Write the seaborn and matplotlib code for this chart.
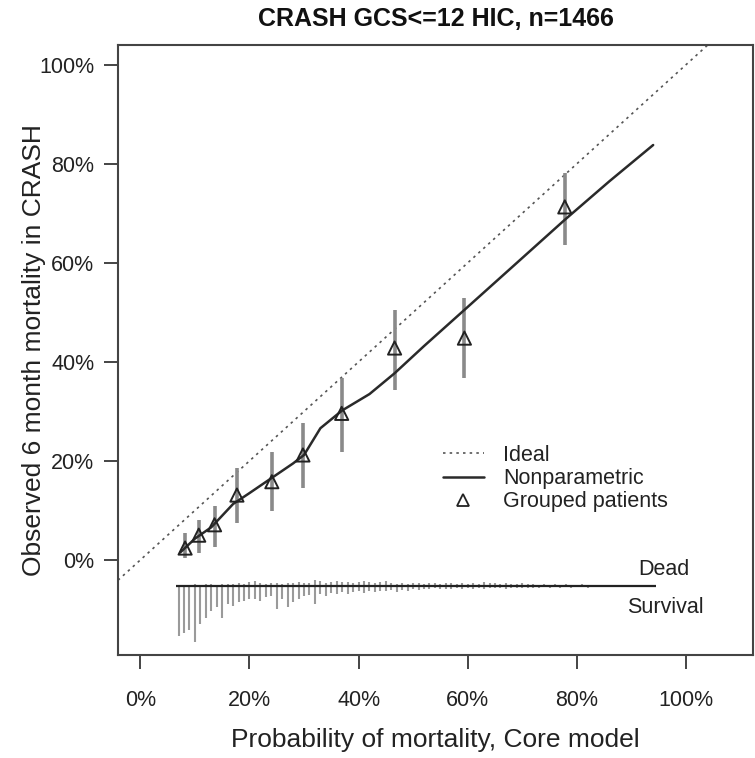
import numpy as np
import pandas as pd
import matplotlib
matplotlib.use("Agg")
import matplotlib.pyplot as plt
import seaborn as sns
from matplotlib.lines import Line2D

# ---------------- data ----------------
title = "CRASH GCS<=12 HIC, n=1466"
xlabel = "Probability of mortality, Core model"
ylabel = "Observed 6 month mortality in CRASH"
tick_values = [0.0, 0.2, 0.4, 0.6, 0.8, 1.0]
tick_labels = ["0%", "20%", "40%", "60%", "80%", "100%"]

# grouped patients (triangles) with 95% CI
group_pred = [0.082, 0.107, 0.136, 0.177, 0.241, 0.298, 0.369, 0.466, 0.594, 0.778]
group_obs = [0.024, 0.050, 0.071, 0.131, 0.158, 0.212, 0.296, 0.428, 0.448, 0.713]
group_lo = [0.004, 0.014, 0.027, 0.075, 0.098, 0.145, 0.219, 0.343, 0.367, 0.636]
group_hi = [0.055, 0.081, 0.108, 0.186, 0.217, 0.277, 0.367, 0.505, 0.529, 0.781]

# nonparametric calibration curve
np_x = [0.073, 0.100, 0.130, 0.170, 0.200, 0.240, 0.280, 0.300, 0.330, 0.370,
        0.420, 0.466, 0.520, 0.594, 0.680, 0.778, 0.860, 0.940]
np_y = [0.015, 0.043, 0.066, 0.113, 0.135, 0.165, 0.195, 0.212, 0.266, 0.302,
        0.335, 0.377, 0.432, 0.505, 0.590, 0.687, 0.765, 0.838]

# spike histogram of predictions (bin centres, spike lengths)
spike_x = [0.07, 0.08, 0.09, 0.10, 0.11, 0.12, 0.13, 0.14, 0.15, 0.16, 0.17, 0.18,
           0.19, 0.20, 0.21, 0.22, 0.23, 0.24, 0.25, 0.26, 0.27, 0.28, 0.29, 0.30,
           0.31, 0.32, 0.33, 0.34, 0.35, 0.36, 0.37, 0.38, 0.39, 0.40, 0.41, 0.42,
           0.43, 0.44, 0.45, 0.46, 0.47, 0.48, 0.49, 0.50, 0.51, 0.52, 0.53, 0.54,
           0.55, 0.56, 0.57, 0.58, 0.59, 0.60, 0.61, 0.62, 0.63, 0.64, 0.65, 0.66,
           0.67, 0.68, 0.69, 0.70, 0.71, 0.72, 0.73, 0.74, 0.75, 0.76, 0.77, 0.78,
           0.79, 0.80, 0.81, 0.82, 0.83, 0.84, 0.85, 0.86, 0.87, 0.88, 0.89, 0.90,
           0.91, 0.92, 0.93, 0.94]
survival_len = [0.100, 0.094, 0.088, 0.112, 0.076, 0.065, 0.050, 0.043, 0.065, 0.036,
                0.040, 0.032, 0.030, 0.025, 0.025, 0.029, 0.022, 0.020, 0.047, 0.025,
                0.043, 0.032, 0.025, 0.020, 0.018, 0.036, 0.015, 0.020, 0.014, 0.016,
                0.012, 0.015, 0.012, 0.010, 0.013, 0.010, 0.012, 0.009, 0.010, 0.008,
                0.011, 0.007, 0.009, 0.006, 0.007, 0.005, 0.006, 0.004, 0.006, 0.005,
                0.005, 0.004, 0.006, 0.004, 0.005, 0.003, 0.005, 0.004, 0.004, 0.003,
                0.005, 0.003, 0.004, 0.003, 0.004, 0.003, 0.003, 0.002, 0.004, 0.002,
                0.003, 0.002, 0.003, 0.002, 0.002, 0.003, 0.002, 0.002, 0.002, 0.001,
                0.002, 0.001, 0.002, 0.001, 0.001, 0.001, 0.001, 0.000]
dead_len = [0.002, 0.003, 0.003, 0.004, 0.003, 0.004, 0.004, 0.003, 0.005, 0.004,
            0.005, 0.006, 0.004, 0.008, 0.010, 0.006, 0.005, 0.007, 0.006, 0.005,
            0.007, 0.006, 0.008, 0.006, 0.007, 0.012, 0.010, 0.007, 0.008, 0.011,
            0.009, 0.008, 0.007, 0.008, 0.010, 0.009, 0.006, 0.008, 0.011, 0.007,
            0.005, 0.006, 0.004, 0.007, 0.006, 0.005, 0.007, 0.006, 0.005, 0.006,
            0.007, 0.005, 0.006, 0.004, 0.007, 0.005, 0.008, 0.006, 0.006, 0.005,
            0.007, 0.004, 0.005, 0.006, 0.004, 0.005, 0.003, 0.004, 0.003, 0.004,
            0.003, 0.005, 0.002, 0.003, 0.004, 0.002, 0.003, 0.002, 0.003, 0.002,
            0.002, 0.001, 0.002, 0.001, 0.002, 0.001, 0.002, 0.001]
spike_base = -0.053

legend_labels = ["Ideal", "Nonparametric", "Grouped patients"]

# ---------------- plot ----------------
sns.set_theme(style="white")
plt.rcParams["font.family"] = ["Liberation Sans", "DejaVu Sans"]

fig = plt.figure(figsize=(7.55, 7.58), dpi=100)
ax = fig.add_axes([118 / 755, 103 / 758, 635 / 755, 610 / 758])

ax.set_xlim(-0.041, 1.123)
ax.set_ylim(-0.192, 1.040)

# ideal diagonal
ax.axline((0, 0), slope=1, color="#555555", lw=1.2, ls=(0, (1.5, 2.5)), zorder=1)

# spike histogram
base = np.full(len(spike_x), spike_base)
ax.vlines(spike_x, base - np.array(survival_len), base, color="#9a9a9a", lw=1.5, zorder=2)
ax.vlines(spike_x, base, base + np.array(dead_len), color="#9a9a9a", lw=1.5, zorder=2)
ax.hlines(spike_base, spike_x[0] - 0.005, spike_x[-1] + 0.005, color="#222222", lw=1.6, zorder=3)
ax.text(0.912, -0.020, "Dead", fontsize=15.5, color="#222222", ha="left", va="center")
ax.text(0.893, -0.097, "Survival", fontsize=15.5, color="#222222", ha="left", va="center")

# error bars
ax.vlines(group_pred, group_lo, group_hi, color="#8a8a8a", lw=2.6, zorder=3)

# nonparametric curve
curve = pd.DataFrame({"x": np_x, "y": np_y})
sns.lineplot(data=curve, x="x", y="y", ax=ax, color="#2a2a2a", lw=1.8, zorder=4,
             estimator=None, sort=False)

# grouped patients
groups = pd.DataFrame({"x": group_pred, "y": group_obs})
sns.scatterplot(data=groups, x="x", y="y", ax=ax, marker="^", s=90,
                facecolor="none", edgecolor="#222222", linewidth=1.4, zorder=5)

# axes styling
ax.set_xticks(tick_values)
ax.set_xticklabels(tick_labels)
ax.set_yticks(tick_values)
ax.set_yticklabels(tick_labels)
ax.tick_params(axis="both", which="both", direction="out", length=10, width=1.4,
               colors="#444444", labelsize=15.5, labelcolor="#222222",
               bottom=True, left=True, top=False, right=False)
ax.tick_params(axis="x", pad=15)
ax.tick_params(axis="y", pad=7)
for sp in ax.spines.values():
    sp.set_visible(True)
    sp.set_color("#444444")
    sp.set_linewidth(1.5)

ax.set_xlabel(xlabel, fontsize=19, color="#222222")
ax.set_ylabel(ylabel, fontsize=19, color="#222222")
ax.xaxis.set_label_coords(0.5, -0.139)
ax.yaxis.set_label_coords(-0.132, 0.5)
ax.xaxis.label.set_va("center")
ax.yaxis.label.set_va("center")
ax.set_title(title, fontsize=18, fontweight="bold", color="#111111", pad=14)

handles = [
    Line2D([], [], color="#555555", lw=1.2, ls=(0, (1.5, 2.5))),
    Line2D([], [], color="#2a2a2a", lw=1.8),
    Line2D([], [], color="#222222", marker="^", ls="none", markersize=8,
           markerfacecolor="none", markeredgewidth=1.3),
]
ax.legend(handles, legend_labels, loc="upper left", bbox_to_anchor=(0.481, 0.376),
          frameon=False, fontsize=15.5, handlelength=1.9, handletextpad=0.9,
          labelspacing=0.1, labelcolor="#222222")

fig.savefig("out.png", dpi=100)
